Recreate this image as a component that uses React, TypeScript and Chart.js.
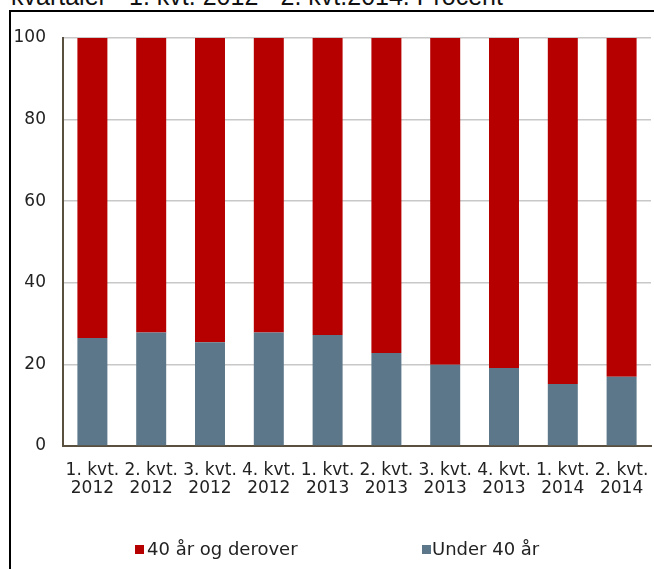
import React, { useEffect, useRef } from "react";
import { Chart, registerables } from "chart.js";

Chart.register(...registerables);

const categories: string[][] = [
  ["1. kvt.", "2012"],
  ["2. kvt.", "2012"],
  ["3. kvt.", "2012"],
  ["4. kvt.", "2012"],
  ["1. kvt.", "2013"],
  ["2. kvt.", "2013"],
  ["3. kvt.", "2013"],
  ["4. kvt.", "2013"],
  ["1. kvt.", "2014"],
  ["2. kvt.", "2014"],
];
const under40: number[] = [26.5, 27.8, 25.4, 27.8, 27.2, 22.8, 19.9, 19.1, 15.2, 17.0];
const over40: number[] = [73.5, 72.2, 74.6, 72.2, 72.8, 77.2, 80.1, 80.9, 84.8, 83.0];
const seriesNames = ["Under 40 år", "40 år og derover"];
const titleText = "kvartaler - 1. kvt. 2012 - 2. kvt.2014. Procent";

const RED = "#B60000";
const BLUE = "#5B7789";
const FONT = "'DejaVu Sans', Verdana, sans-serif";

export default function App() {
  const ref = useRef<HTMLCanvasElement | null>(null);
  useEffect(() => {
    if (!ref.current) return;
    const chart = new Chart(ref.current, {
      type: "bar",
      data: {
        labels: categories,
        datasets: [
          { label: seriesNames[0], data: under40, backgroundColor: BLUE, barPercentage: 0.51, categoryPercentage: 1 },
          { label: seriesNames[1], data: over40, backgroundColor: RED, barPercentage: 0.51, categoryPercentage: 1 },
        ],
      },
      options: {
        responsive: false,
        animation: false,
        maintainAspectRatio: false,
        layout: { padding: { top: 38, left: 0, right: 3, bottom: 0 } },
        plugins: { legend: { display: false }, tooltip: { enabled: false } },
        scales: {
          x: {
            stacked: true,
            grid: { display: false, drawTicks: false },
            border: { color: "#5a5040", width: 2 },
            ticks: {
              font: { family: FONT, size: 17, lineHeight: 1.08 },
              color: "#222",
              padding: 15,
              maxRotation: 0,
              minRotation: 0,
              autoSkip: false,
            },
            afterFit: (s: any) => {
              s.height = 569 - 446;
              s.paddingLeft = 0;
              s.paddingRight = 0;
            },
          },
          y: {
            stacked: true,
            min: 0,
            max: 100,
            grid: { color: "#c8c8c8", lineWidth: 1.5, drawTicks: false },
            border: { color: "#5a5040", width: 2 },
            ticks: {
              stepSize: 20,
              font: { family: FONT, size: 17 },
              color: "#222",
              padding: 17,
            },
            afterFit: (s: any) => {
              s.width = 63;
              s.paddingTop = 0;
              s.paddingBottom = 0;
            },
          },
        },
      },
    });
    return () => chart.destroy();
  }, []);

  const legendText: React.CSSProperties = {
    position: "absolute",
    top: 539,
    fontFamily: FONT,
    fontSize: 18,
    color: "#222",
    lineHeight: "20px",
    whiteSpace: "nowrap",
  };

  return (
    <div style={{ position: "fixed", left: 0, top: 0, width: 654, height: 569, overflow: "hidden", background: "#fff" }}>
      <div
        style={{
          position: "absolute",
          left: 11,
          top: -16,
          fontFamily: "'Liberation Sans', Arial, sans-serif",
          fontSize: 25,
          lineHeight: "25px",
          color: "#111",
          whiteSpace: "nowrap",
        }}
      >
        {titleText}
      </div>
      <div
        style={{
          position: "absolute",
          left: 9,
          top: 10,
          width: 700,
          height: 600,
          border: "2px solid #000",
        }}
      />
      <canvas ref={ref} width={654} height={569} style={{ position: "absolute", left: 0, top: 0 }} />
      <div style={{ position: "absolute", left: 135, top: 545, width: 9, height: 9, background: RED }} />
      <div style={{ ...legendText, left: 147 }}>{seriesNames[1]}</div>
      <div style={{ position: "absolute", left: 422, top: 545, width: 9, height: 9, background: BLUE }} />
      <div style={{ ...legendText, left: 432 }}>{seriesNames[0]}</div>
    </div>
  );
}
